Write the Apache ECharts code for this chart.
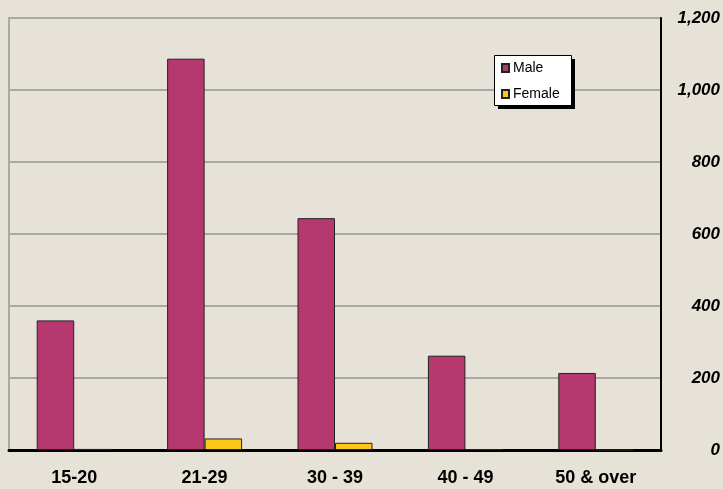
<!DOCTYPE html>
<html><head><meta charset="utf-8">
<script src="https://cdn.jsdelivr.net/npm/echarts@6/dist/echarts.min.js"></script>
<style>html,body{margin:0;padding:0;background:#e6e2d8;}#c{width:723px;height:489px;}</style>
</head><body><div id="c"></div>
<script>
const categories = ['15-20', '21-29', '30 - 39', '40 - 49', '50 & over'];
const maleValues = [360, 1087, 644, 262, 214];
const femaleValues = [3, 32, 20, 2, 0];
const yTicks = [0, 200, 400, 600, 800, 1000, 1200];

const chart = echarts.init(document.getElementById('c'));
chart.setOption({
  backgroundColor: '#e6e2d8',
  animation: false,
  textStyle: { fontFamily: 'Liberation Sans, Arial, sans-serif' },
  graphic: [
    { type: 'rect', left: 498, top: 59, z: 10, shape: { width: 77, height: 50 }, style: { fill: '#000' } },
    { type: 'rect', left: 494, top: 55, z: 11, shape: { width: 77, height: 50 }, style: { fill: '#fff', stroke: '#000', lineWidth: 1 } }
  ],
  legend: {
    orient: 'vertical',
    left: 501, top: 61, z: 20,
    padding: 0,
    itemWidth: 7, itemHeight: 8, itemGap: 12,
    icon: 'rect',
    textStyle: { fontSize: 14, color: '#000', padding: [0, 0, 0, -1] },
    data: ['Male', 'Female']
  },
  grid: { left: 9, right: 62, top: 18, bottom: 39, show: true, borderColor: '#a8a8a8', borderWidth: 2 },
  xAxis: {
    type: 'category', data: categories,
    axisLine: { lineStyle: { color: '#000', width: 3 } },
    axisTick: { show: false },
    axisLabel: { color: '#000', fontWeight: 'bold', fontSize: 18, margin: 19 }
  },
  yAxis: {
    type: 'value', position: 'right', min: yTicks[0], max: yTicks[yTicks.length - 1], interval: 200,
    axisLine: { show: true, lineStyle: { color: '#000', width: 2 } },
    axisTick: { show: false },
    splitLine: { lineStyle: { color: '#a8a8a8', width: 2 } },
    axisLabel: {
      color: '#000', fontWeight: 'bold', fontStyle: 'italic', fontSize: 17,
      align: 'right', margin: 59,
      formatter: v => v.toLocaleString('en-US')
    }
  },
  series: [
    { name: 'Male', type: 'bar', data: maleValues, barGap: '0%', barCategoryGap: '42.5%',
      itemStyle: { color: '#b5386f', borderColor: '#222', borderWidth: 1 } },
    { name: 'Female', type: 'bar', data: femaleValues,
      itemStyle: { color: '#fec61a', borderColor: '#222', borderWidth: 1 } }
  ]
});
</script></body></html>
